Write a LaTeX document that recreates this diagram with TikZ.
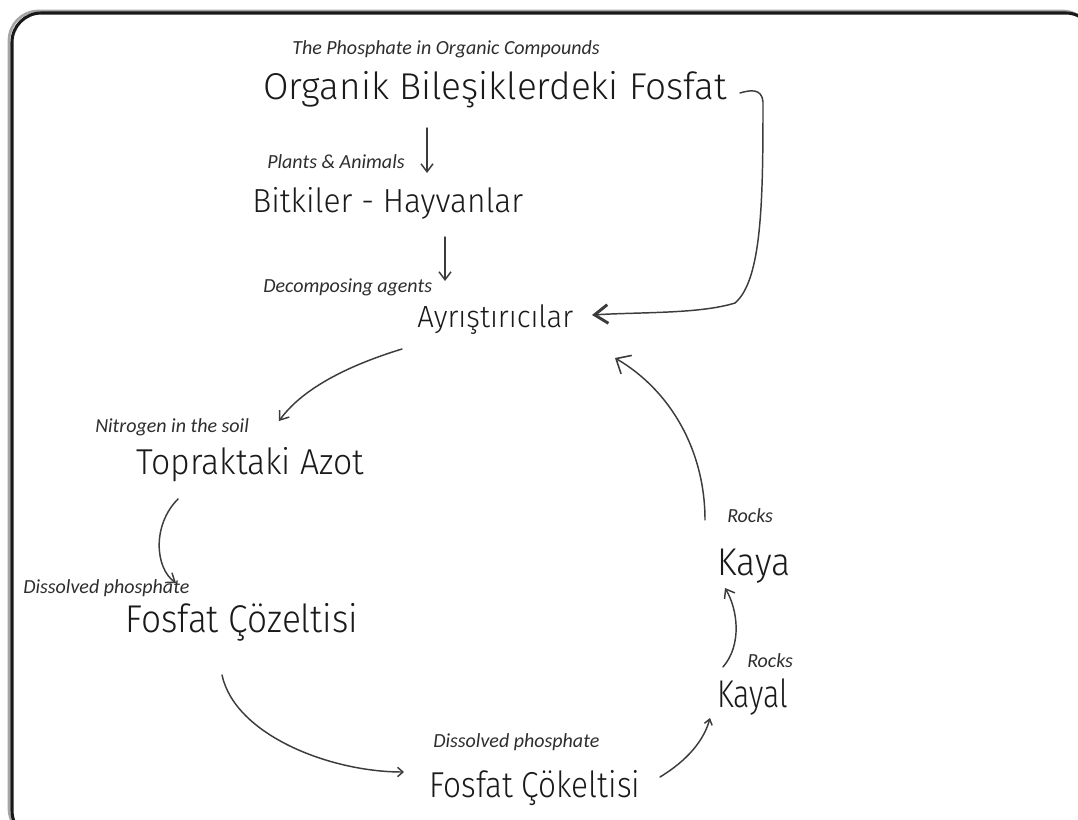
\documentclass[tikz,border=0pt]{standalone}
\usepackage{fontspec}
\usepackage{graphicx}
\usetikzlibrary{arrows.meta}
\setmainfont{Carlito}
\IfFontExistsTF{Fira Sans Light}
  {\newfontfamily\handfont{Fira Sans Light}}
  {\newfontfamily\handfont{Fira Sans}}
\newlength\px
\setlength\px{0.75pt}
% handwritten word: font size #1 (pt), stretched to width #2 (px)
\newcommand\hw[3]{\resizebox{#2\px}{\height}{\handfont\fontsize{#1}{#1}\selectfont #3}}
\definecolor{inkcol}{HTML}{1A1A1A}
\definecolor{labcol}{HTML}{2E2E2E}
\definecolor{arrcol}{HTML}{3C3C3C}
\begin{document}
\begin{tikzpicture}[x=0.75pt,y=-0.75pt,
  lab/.style={anchor=base west,inner sep=0pt,text=labcol,font=\itshape\fontsize{15}{15}\selectfont},
  hand/.style={anchor=base west,inner sep=0pt,text=inkcol},
  flow/.style={draw=arrcol,line width=1.1pt,line cap=round},
  tip/.style={-{Straight Barb[length=6pt,width=9pt,line width=1.1pt]}},
  bigtip/.style={-{Straight Barb[length=10pt,width=14pt,line width=2.2pt]}}]
\useasboundingbox (0,0) rectangle (1078,820);
\fill[white] (0,0) rectangle (1078,820);
% frame with soft shadow
\draw[black!35,line width=2pt,rounded corners=22] (9,11) rectangle (1092,838);
\draw[black!90,line width=2.3pt,rounded corners=22] (12,13) rectangle (1095,840);

% labels
\node[lab] (l1) at (292,55) {The Phosphate in Organic Compounds};
\node[lab] (l2) at (267,169) {Plants \& Animals};
\node[lab] (l3) at (263,292) {Decomposing agents};
\node[lab] (l4) at (95,432) {Nitrogen in the soil};
\node[lab] (l5) at (23,593) {Dissolved phosphate};
\node[lab] (l6) at (433,747) {Dissolved phosphate};
\node[lab] (l7) at (747,667) {Rocks};
\node[lab] (l8) at (727,522) {Rocks};

% handwritten terms
\node[hand] (org) at (263,100) {\hw{28}{464}{Organik Bileşiklerdeki Fosfat}};
\node[hand] (bit) at (252,213) {\hw{25}{271}{Bitkiler - Hayvanlar}};
\node[hand] (ayr) at (417,327) {\hw{23}{156}{Ayrıştırıcılar}};
\node[hand] (top) at (136,474) {\hw{27}{228}{Topraktaki Azot}};
\node[hand] (coz) at (125,632) {\hw{29}{233}{Fosfat Çözeltisi}};
\node[hand] (cok) at (429,797) {\hw{27}{211}{Fosfat Çökeltisi}};
\node[hand] (kyl) at (717,707) {\hw{29}{71}{Kayal}};
\node[hand] (kya) at (717,575) {\hw{29}{73}{Kaya}};

% connector end points
\coordinate (a1s) at (427,128);  \coordinate (a1e) at (427,173);
\coordinate (a2s) at (445,237);  \coordinate (a2e) at (445,281);
\coordinate (a3s) at (740,93);   \coordinate (a3e) at (592,315);
\coordinate (a4s) at (402,349);  \coordinate (a4e) at (279,421);
\coordinate (a5s) at (178,499);  \coordinate (a5e) at (176,583);
\coordinate (a6s) at (222,675);  \coordinate (a6e) at (404,772);
\coordinate (a7s) at (660,777);  \coordinate (a7e) at (710,718);
\coordinate (a8s) at (723,667);  \coordinate (a8e) at (725,588);
\coordinate (a9s) at (705,520);  \coordinate (a9e) at (615,358);

% the cycle
\draw[flow,tip] (a1s) -- (a1e);
\draw[flow,tip] (a2s) -- (a2e);
\draw[flow,bigtip] (a3s) .. controls (750,90) and (762,88) .. (763,102)
   .. controls (763,200) and (762,280) .. (735,303)
   .. controls (700,314) and (640,312) .. (a3e);
\draw[flow,tip] (a4s) .. controls (340,368) and (300,392) .. (a4e);
\draw[flow,tip] (a5s) .. controls (152,525) and (155,568) .. (a5e);
\draw[flow,-{Straight Barb[length=4pt,width=7pt,line width=1.1pt]}] (a6s) .. controls (235,735) and (330,772) .. (a6e);
\draw[flow,-{Straight Barb[length=4pt,width=6pt,line width=1.1pt]}] (a7s) .. controls (688,760) and (704,740) .. (a7e);
\draw[flow,tip] (a8s) .. controls (742,645) and (738,610) .. (a8e);
\draw[flow,-{Straight Barb[length=9pt,width=16pt,line width=1.2pt]}] (a9s) .. controls (705,450) and (670,390) .. (a9e);
\end{tikzpicture}
\end{document}
